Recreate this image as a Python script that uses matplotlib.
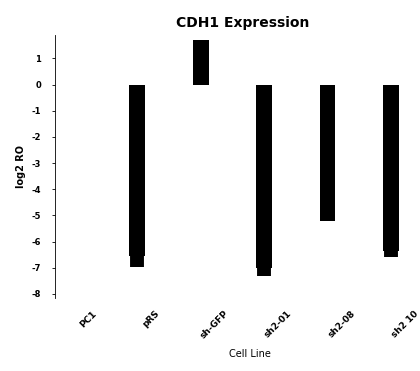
import matplotlib
matplotlib.use("Agg")
import matplotlib.pyplot as plt
import matplotlib.transforms as mtransforms
import numpy as np

cell_lines = ["PC1", "pRS", "sh-GFP", "sh2-01", "sh2-08", "sh2 10"]
log2_ro = [0.0, -6.55, 1.7, -7.0, -5.2, -6.35]
err = [0.0, 0.4, 0.0, 0.3, 0.0, 0.25]
yticks = [1, 0, -1, -2, -3, -4, -5, -6, -7, -8]


def main():
    fig = plt.figure(figsize=(4.2, 3.71), dpi=100)
    ax = fig.add_axes([0.131, 0.197, 0.845, 0.709])

    x = np.arange(len(cell_lines))
    ax.bar(x, log2_ro, width=0.25, color="black", linewidth=0)
    # error bars only hang below the negative bars
    lower = [e if v < 0 else 0 for v, e in zip(log2_ro, err)]
    ax.errorbar(x, log2_ro, yerr=[lower, [0] * len(x)], fmt="none",
                ecolor="black", elinewidth=10, capsize=0)

    ax.set_xlim(-0.3, 5.3)
    ax.set_ylim(-8.15, 1.9)
    ax.set_yticks(yticks)
    ax.set_yticklabels([str(t) for t in yticks], fontsize=6, fontweight="bold")
    ax.tick_params(axis="y", length=2, width=0.6, pad=8)

    ax.set_xticks(x)
    ax.set_xticklabels(cell_lines, rotation=45, ha="center", fontsize=6.5,
                       fontweight="bold")
    ax.tick_params(axis="x", length=0, pad=8)
    offset = mtransforms.ScaledTranslation(0.14, 0, fig.dpi_scale_trans)
    for lbl in ax.get_xticklabels():
        lbl.set_transform(lbl.get_transform() + offset)

    for side in ["top", "right", "bottom"]:
        ax.spines[side].set_visible(False)
    ax.spines["left"].set_linewidth(0.6)

    ax.set_title("CDH1 Expression", fontsize=10, fontweight="bold", pad=6,
                 x=0.53)
    ax.set_ylabel("log2 RO", fontsize=7, fontweight="bold", labelpad=4)
    ax.set_xlabel("Cell Line", fontsize=7, labelpad=6, x=0.55)

    plt.savefig("out.png", dpi=100)


if __name__ == "__main__":
    main()
